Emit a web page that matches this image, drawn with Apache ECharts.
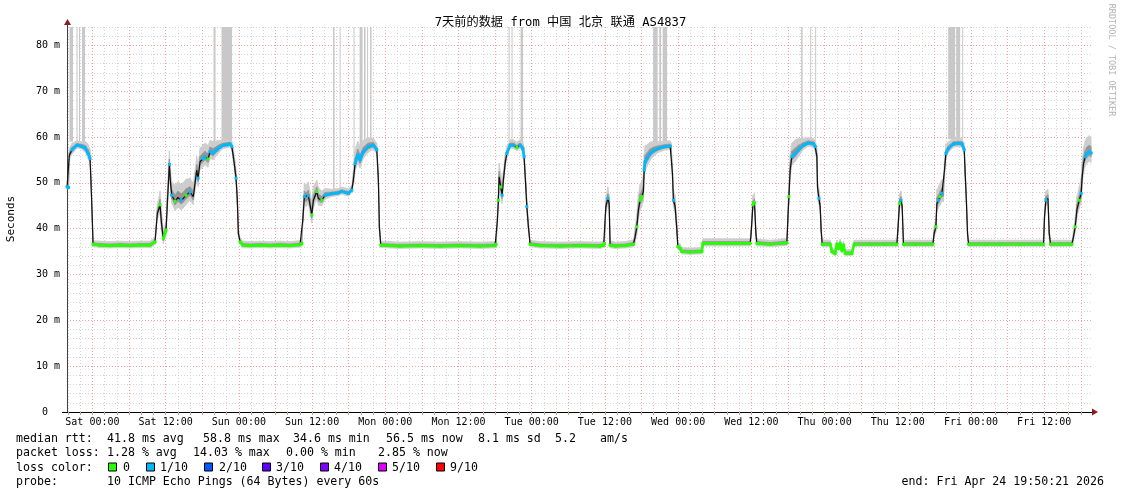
<!DOCTYPE html>
<html><head><meta charset="utf-8">
<script src="https://cdn.jsdelivr.net/npm/echarts@6/dist/echarts.min.js"></script>
<style>html,body{margin:0;padding:0;background:#fff}#c{width:1121px;height:494px}</style>
</head><body><div id="c"></div>
<script>
// ---------------- data ----------------
const titleText = '7天前的数据 from 中国 北京 联通 AS4837';
const xMinHour = -(4 + 10 / 60);      // Fri 19:50 (hours relative to Sat 00:00)
const xMaxHour = 163 + 50 / 60;       // Fri 19:50 one week later
const yMaxMs = 84;
const xLabelHours = [0, 12, 24, 36, 48, 60, 72, 84, 96, 108, 120, 132, 144, 156];
const xLabelTexts = ['Sat 00:00', 'Sat 12:00', 'Sun 00:00', 'Sun 12:00', 'Mon 00:00', 'Mon 12:00', 'Tue 00:00',
  'Tue 12:00', 'Wed 00:00', 'Wed 12:00', 'Thu 00:00', 'Thu 12:00', 'Fri 00:00', 'Fri 12:00'];
const yLabelValues = [0, 10, 20, 30, 40, 50, 60, 70, 80];
const yLabelTexts = ['0  ', '10 m', '20 m', '30 m', '40 m', '50 m', '60 m', '70 m', '80 m'];

// time of each median sample, hours relative to Sat 00:00
const rttHours = [
  -4.16, -3.92, -3.79, -3.34, -2.52, -1.87, -1.21, -0.72, -0.39, -0.23, -0.02, 0.10,
  1.25, 2.89, 4.52, 6.16, 7.80, 9.44, 10.26, 10.64, 11.08, 11.33, 11.62, 12.07, 12.28, 12.61, 12.8, 13.0,
  13.54, 14.03, 14.52, 14.9, 15.34, 16.0, 16.54, 17.1, 17.31, 17.64, 18.13, 18.46, 18.95, 19.28, 19.77,
  20.38, 20.92, 21.46, 22.07, 22.56, 22.84, 23.1, 23.38, 23.54, 23.75, 23.92, 24.2, 24.69,
  25.84, 27.48, 29.11, 30.75, 32.39, 34.03, 34.31, 34.48, 34.74, 35.02, 35.39, 35.67, 35.95, 36.21,
  36.77, 37.03, 37.59, 38.13, 39.23, 40.31, 40.87, 41.95, 42.51, 42.77, 43.05, 43.49, 43.87, 44.41, 45.23, 46.05, 46.61,
  46.87, 47.03, 47.26,
  48.77, 50.43, 53.71, 56.98, 60.26, 63.54, 66.0, 66.16, 66.38, 66.54, 66.66, 66.93, 67.15, 67.36, 67.64,
  67.92, 68.46, 69.0, 69.56, 70.1, 70.54, 70.75, 71.03, 71.2, 71.46, 71.74,
  73.38, 76.66, 79.93, 83.21, 83.79, 83.92, 84.15, 84.48, 84.69, 84.85, 85.67, 87.31, 88.67,
  88.95, 89.23, 89.49, 89.77, 90.05, 90.31, 90.43, 90.59, 90.87, 91.41, 91.95, 92.77, 93.87, 94.69, 94.85,
  95.07, 95.23, 95.51, 95.79, 95.95, 96.33, 96.61, 97.97, 99.89,
  100.05, 102.89, 105.34, 107.8, 107.97, 108.25, 108.51, 108.74, 108.9, 111.08, 113.82,
  113.98, 114.15, 114.36, 114.64, 115.18, 115.72, 116.54, 117.36, 118.18, 118.46,
  118.74, 118.84, 119.07, 119.28, 119.44, 119.61,
  120.92, 121.2, 121.74, 122.02, 122.28, 122.56, 122.84, 123.1, 123.38, 124.48, 124.85,
  127.48, 129.93, 131.85, 132.02, 132.28, 132.51, 132.72, 132.93, 134.85, 137.75, 137.97, 138.25,
  138.41, 138.67, 138.95, 139.23, 139.49, 139.66, 139.89, 140.31, 141.13, 141.95, 142.51,
  142.89, 143.05, 143.26, 143.43, 143.6, 146.33, 148.79, 152.07, 155.89, 156.05, 156.28, 156.61, 156.82,
  157.03, 158.62, 160.54, 160.8, 161.08, 161.36, 161.74, 162.07, 162.18, 162.44, 162.72, 163.0, 163.38, 163.7
];
// median RTT in ms
const rttMedian = [
  49.1, 49.0, 56.0, 57.2, 58.2, 58.0, 57.6, 56.5, 55.3, 50.0, 42.0, 36.6,
  36.4, 36.3, 36.4, 36.3, 36.4, 36.4, 37.1, 43.3, 45.2, 41.0, 37.9, 39.7, 45.5, 54.0, 50.0, 47.3,
  46.0, 46.8, 46.2, 46.6, 47.3, 48.0, 47.0, 52.8, 51.0, 54.6, 55.3, 55.7, 55.2, 56.8, 56.5,
  57.2, 57.8, 58.2, 58.3, 58.5, 57.9, 55.7, 52.8, 51.0, 46.2, 39.0, 37.1, 36.4,
  36.3, 36.4, 36.3, 36.4, 36.3, 36.5, 36.8, 41.9, 47.0, 46.6, 47.2, 45.2, 43.0, 46.2,
  48.1, 46.6, 46.2, 47.3, 47.6, 47.8, 48.1, 47.7, 48.4, 50.6, 54.2, 56.1, 55.0, 56.8, 57.9, 58.2, 57.2,
  50.6, 40.4, 36.4,
  36.3, 36.2, 36.3, 36.2, 36.3, 36.2, 36.3, 36.6, 41.9, 46.2, 51.3, 49.1, 47.3, 50.6, 54.2,
  56.4, 58.2, 58.2, 57.7, 58.2, 57.5, 55.7, 49.1, 44.8, 40.4, 36.6,
  36.3, 36.2, 36.3, 36.2, 36.4, 36.8, 44.8, 46.6, 45.5, 36.4, 36.2, 36.3, 36.6,
  38.2, 40.4, 44.1, 46.2, 47.0, 48.1, 52.8, 54.6, 55.3, 56.4, 57.0, 57.5, 57.9, 58.0, 57.6,
  52.0, 46.2, 44.8, 39.7, 36.1, 35.7, 35.0, 34.9, 35.0,
  36.8, 36.8, 36.8, 36.8, 39.0, 45.2, 45.7, 39.0, 36.8, 36.6, 36.9,
  41.9, 47.0, 52.8, 55.7, 56.4, 57.2, 58.2, 58.7, 58.5, 57.9,
  55.7, 49.1, 46.6, 44.8, 39.7, 36.6,
  36.6, 35.0, 34.6, 36.6, 35.7, 36.8, 35.2, 36.4, 34.6, 34.6, 36.6,
  36.6, 36.6, 36.6, 39.7, 45.5, 46.2, 44.8, 36.6, 36.6, 36.6, 39.0, 40.4,
  45.5, 46.2, 47.0, 47.7, 47.8, 52.8, 56.4, 57.5, 58.5, 58.6, 58.5,
  57.2, 52.0, 45.5, 39.0, 36.6, 36.6, 36.6, 36.6, 36.6, 42.6, 46.2, 46.6, 39.0,
  36.6, 36.6, 36.6, 38.2, 40.4, 44.1, 46.2, 47.7, 50.6, 54.2, 55.7, 56.4, 56.8, 56.5
];
// loss level index of each sample (0 = 0, 1 = 1/10), null = no loss colour drawn
const rttLoss = [
  1, 1, null, 1, 1, 1, 1, 1, 1, null, null, 0,
  0, 0, 0, 0, 0, 0, 0, null, 0, null, 0, 0, null, 1, null, 1,
  0, null, 1, null, 0, 1, null, null, 1, null, 1, 1, 0, 1, 1,
  1, 1, 1, 1, 1, 1, null, null, 1, null, null, 0, 0,
  0, 0, 0, 0, 0, 0, 0, null, 1, null, 1, null, 0, null,
  0, null, 0, 1, 1, 1, 1, 1, 1, null, 1, 1, 1, 1, 1, 1, 1,
  null, null, 0,
  0, 0, 0, 0, 0, 0, 0, 0, null, 0, null, 0, 1, null, null,
  1, 1, 1, 0, 1, 1, 1, null, 1, null, 0,
  0, 0, 0, 0, 0, 0, null, 1, null, 0, 0, 0, 0,
  null, 0, null, 0, 0, null, 1, 1, 1, 1, 1, 1, 1, 1, null,
  null, 1, null, null, 0, 0, 0, 0, 0,
  0, 0, 0, 0, null, 0, 0, null, 0, 0, 0,
  null, 0, null, 1, 1, 1, 1, 1, 1, 1,
  null, null, 1, null, null, 0,
  0, 0, 0, 0, 0, 0, 0, 0, 0, 0, 0,
  0, 0, 0, null, 0, 1, null, 0, 0, 0, null, 0,
  null, 1, 0, 1, null, null, 1, 1, 1, 1, 1,
  1, null, null, null, 0, 0, 0, 0, 0, null, 1, null, null,
  0, 0, 0, null, 0, null, 0, 1, null, null, 1, 1, 1, 1
];
// spread of the smoke around the median, ms
const smokeSpread = [
  0.6, 0.6, 1.5, 1.5, 1.0, 1.0, 1.5, 2.0, 2.0, 1.5, 1.0, 0.8,
  0.9, 0.9, 0.9, 0.9, 0.9, 0.9, 1.0, 2, 3, 3, 2, 2, 3, 3, 3, 3,
  3.5, 3.5, 3.5, 3.5, 3.5, 3, 3, 3, 3, 3, 3, 3, 3, 2.5, 2.5,
  2, 1.5, 1.2, 1.2, 1.0, 1.2, 2, 2, 2, 2, 1.5, 1, 0.9,
  0.9, 0.9, 0.9, 0.9, 0.9, 0.9, 1.0, 2, 3, 3, 3, 3, 3, 3,
  2.5, 2.5, 2, 1.5, 1, 1, 1, 1, 1, 2, 3, 3, 3, 2.5, 2, 1.5, 1.5,
  2, 1.5, 0.9,
  0.9, 0.9, 0.9, 0.9, 0.9, 0.9, 0.9, 1, 2, 3, 3, 3, 3, 2, 2,
  1.5, 1.2, 1.2, 1.2, 1.2, 1.5, 2, 2, 2, 1.5, 0.9,
  0.9, 0.9, 0.9, 0.9, 0.9, 1, 2, 2.5, 2, 1, 0.9, 0.9, 1,
  2, 3, 3.5, 3.5, 3.5, 3.5, 3.5, 3.5, 3, 2.5, 2, 1.5, 1.2, 1.2, 1.2,
  2, 2.5, 2.5, 2, 1, 1, 0.9, 0.9, 0.9,
  1, 1, 1, 1, 1.5, 2, 2, 1.5, 1, 0.9, 1,
  2, 3, 3.5, 3, 3, 2.5, 1.5, 1.2, 1.2, 1.5,
  2, 2, 2, 2, 1.5, 1,
  0.9, 0.9, 0.9, 0.9, 0.9, 0.9, 0.9, 0.9, 0.9, 0.9, 0.9,
  0.9, 0.9, 0.9, 1.5, 2, 2, 1.5, 0.9, 0.9, 0.9, 1.5, 2,
  3, 3, 3, 3, 3, 2.5, 2, 1.5, 1.2, 1.2, 1.2,
  1.5, 2, 2, 1.5, 0.9, 0.9, 0.9, 0.9, 0.9, 1.5, 2, 2, 1.5,
  0.9, 0.9, 0.9, 1.5, 2, 3, 3, 3.5, 3.5, 3.5, 3.5, 3.5, 3.5, 3.5
];
// outlier pings drawn up to the top of the graph: start hour, end hour, lower edge (ms)
const spikeStart = [-3.75, -2.61, -2.2, -1.7, 19.85, 21.16, 39.44, 40.51, 42.8, 43.79, 44.52, 45.02, 45.51,
  68.21, 68.7, 70.18, 91.9, 92.9, 93.46, 116.16, 117.64, 118.46, 140.26, 141.57, 142.56];
const spikeEnd = [-3.18, -2.44, -2.03, -1.21, 20.18, 22.89, 39.69, 40.67, 42.97, 44.28, 44.77, 45.18, 45.75,
  68.38, 68.82, 70.59, 92.64, 93.21, 94.2, 116.41, 117.8, 118.62, 141.41, 142.23, 142.72];
const spikeBase = [59, 59, 59, 59, 57.5, 59, 48.5, 48.5, 50, 57, 58, 59, 59,
  59, 59, 59, 58, 59, 59, 59.5, 59.5, 59.5, 59.5, 59.5, 59.5];

const lossLabels = ['0', '1/10', '2/10', '3/10', '4/10', '5/10', '9/10'];
const lossColors = ['#26ff00', '#00b8ff', '#0059ff', '#5e00ff', '#7e00ff', '#dd00ff', '#ff0000'];
const statRows = [
  ['median rtt:', '41.8 ms avg', '58.8 ms max', '34.6 ms min', '56.5 ms now', '8.1 ms sd', '5.2', 'am/s'],
  ['packet loss:', '1.28 % avg', '14.03 % max', '0.00 % min', '2.85 % now'],
  ['probe:', '10 ICMP Echo Pings (64 Bytes) every 60s']
];
const endText = 'end: Fri Apr 24 19:50:21 2026';

// ---------------- build ----------------
const MONO = '"DejaVu Sans Mono", "Noto Sans CJK SC", monospace';
const gridHours = [];
for (let h = -4; h <= 162; h += 2) gridHours.push(h);
const yGridMinor = '#d4d4d4', yGridMajor = '#f2a2a2';

const medianPts = rttHours.map((h, i) => [h, rttMedian[i]]);
function smokeSegs(f) {
  const out = [];
  for (let i = 0; i < rttHours.length - 1; i++) {
    const a = rttMedian[i], b = rttMedian[i + 1], sa = smokeSpread[i] * f, sb = smokeSpread[i + 1] * f;
    out.push([rttHours[i], a - 0.6 * sa, a + sa, rttHours[i + 1], b - 0.6 * sb, b + sb]);
  }
  return out;
}
function smokeSeries(f, color, z) {
  return {
    type: 'custom', z: z, silent: true, clip: true,
    encode: { x: [0, 3], y: [1, 2, 4, 5] },
    data: smokeSegs(f),
    renderItem: (params, api) => {
      const p1 = api.coord([api.value(0), api.value(1)]);
      const p2 = api.coord([api.value(0), api.value(2)]);
      const p3 = api.coord([api.value(3), api.value(5)]);
      const p4 = api.coord([api.value(3), api.value(4)]);
      return { type: 'polygon', shape: { points: [p1, p2, p3, p4] },
        style: { fill: color, stroke: color, lineWidth: 0.6 } };
    }
  };
}
const spikeData = spikeStart.map((s, i) => [s, spikeEnd[i], spikeBase[i]]);
function lossSeries(level) {
  return {
    type: 'line', z: 5, silent: true, animation: false,
    data: rttHours.map((h, i) => [h, rttLoss[i] === level ? rttMedian[i] : null]),
    connectNulls: false, showSymbol: true, symbol: 'rect', symbolSize: 3,
    itemStyle: { color: lossColors[level] },
    lineStyle: { color: lossColors[level], width: 2.6 }
  };
}

const graphics = [];
const rowY = [438.5, 453, 467.5, 482];
const row1X = [16, 107, 203, 293, 386, 478, 555, 600];
const row2X = [16, 107, 193, 286, 378];
const boxX = [108, 146, 204, 262, 320, 378, 436];
const boxLabelX = [123, 160, 219, 276, 334, 392, 450];
function txt(t, x, y, extra) {
  graphics.push(Object.assign({ type: 'text', x: x, y: y,
    style: { text: t, font: '11.6px ' + MONO, fill: '#000', align: 'left', verticalAlign: 'middle' } }, extra || {}));
}
statRows[0].forEach((t, i) => txt(t, row1X[i], rowY[0]));
statRows[1].forEach((t, i) => txt(t, row2X[i], rowY[1]));
txt('loss color:', 16, rowY[2]);
lossLabels.forEach((t, i) => {
  graphics.push({ type: 'rect', shape: { x: boxX[i] + 0.5, y: rowY[2] - 4.5, width: 8, height: 8 },
    style: { fill: lossColors[i], stroke: '#000', lineWidth: 1 } });
  txt(t, boxLabelX[i], rowY[2]);
});
txt(statRows[2][0], 16, rowY[3]);
txt(statRows[2][1], 107, rowY[3]);
graphics.push({ type: 'text', x: 1104, y: rowY[3],
  style: { text: endText, font: '11.6px ' + MONO, fill: '#000', align: 'right', verticalAlign: 'middle' } });
graphics.push({ type: 'text', x: 11, y: 219, rotation: Math.PI / 2,
  style: { text: 'Seconds', font: '11px ' + MONO, fill: '#000', align: 'center', verticalAlign: 'middle' } });
graphics.push({ type: 'text', x: 1111, y: 60, rotation: -Math.PI / 2,
  style: { text: 'RRDTOOL / TOBI OETIKER', font: '8.5px ' + MONO, fill: '#b4b4b4', align: 'center', verticalAlign: 'middle' } });
graphics.push({ type: 'line', shape: { x1: 67.5, y1: 27, x2: 67.5, y2: 22 }, style: { stroke: '#404040', lineWidth: 1 } });
graphics.push({ type: 'polygon', shape: { points: [[64, 25], [71, 25], [67.5, 19]] }, style: { fill: '#8b1e1e' } });
graphics.push({ type: 'polygon', shape: { points: [[1092, 408.5], [1092, 415.5], [1098, 412]] }, style: { fill: '#8b1e1e' } });
graphics.push({ type: 'line', shape: { x1: 62, y1: 412.5, x2: 67, y2: 412.5 }, style: { stroke: '#000', lineWidth: 1 } });

const chart = echarts.init(document.getElementById('c'), null, { renderer: 'canvas' });
chart.setOption({
  animation: false,
  backgroundColor: '#fff',
  title: { text: titleText, left: 'center', top: 12,
    textStyle: { fontFamily: MONO, fontSize: 12.2, fontWeight: 'normal', color: '#000' } },
  grid: { left: 67, right: 29, top: 27, bottom: 82, containLabel: false },
  xAxis: {
    type: 'value', min: xMinHour, max: xMaxHour,
    axisLine: { show: true, onZero: false, lineStyle: { color: '#000', width: 1 } },
    axisTick: { show: true, customValues: gridHours, length: 3, lineStyle: { color: '#c8a0a0' } },
    axisLabel: { customValues: xLabelHours, margin: 5, fontFamily: MONO, fontSize: 10, color: '#000',
      formatter: v => { const i = xLabelHours.indexOf(Math.round(v)); return i >= 0 ? xLabelTexts[i] : ''; } },
    splitLine: { show: true, lineStyle: { color: [yGridMinor, yGridMinor, yGridMajor], type: [1, 2], width: 1 } }
  },
  yAxis: {
    type: 'value', min: 0, max: yMaxMs, interval: 2,
    axisLine: { show: true, onZero: false, lineStyle: { color: '#404040', width: 1 } },
    axisTick: { show: false },
    axisLabel: { margin: 7, fontFamily: MONO, fontSize: 10, color: '#000',
      formatter: v => { const i = yLabelValues.indexOf(v); return i >= 0 ? yLabelTexts[i] : ''; } },
    splitLine: { show: true, lineStyle: { color: [yGridMajor, yGridMinor, yGridMinor, yGridMinor, yGridMinor], type: [1, 2], width: 1 } }
  },
  graphic: graphics,
  series: [
    {
      type: 'custom', z: 1, silent: true, clip: true,
      encode: { x: [0, 1], y: 2 },
      data: spikeData,
      renderItem: (params, api) => {
        const p0 = api.coord([api.value(0), yMaxMs]);
        const p1 = api.coord([api.value(1), api.value(2)]);
        return { type: 'rect', shape: { x: p0[0], y: p0[1], width: Math.max(1, p1[0] - p0[0]), height: p1[1] - p0[1] },
          style: { fill: '#c8c8c8' } };
      }
    },
    smokeSeries(1, '#cdcdcd', 2),
    smokeSeries(0.4, '#969696', 3),
    {
      type: 'line', z: 4, silent: true, data: medianPts, showSymbol: false,
      lineStyle: { color: '#111', width: 1.2 }
    },
    lossSeries(0),
    lossSeries(1)
  ]
});
</script>
</body></html>
